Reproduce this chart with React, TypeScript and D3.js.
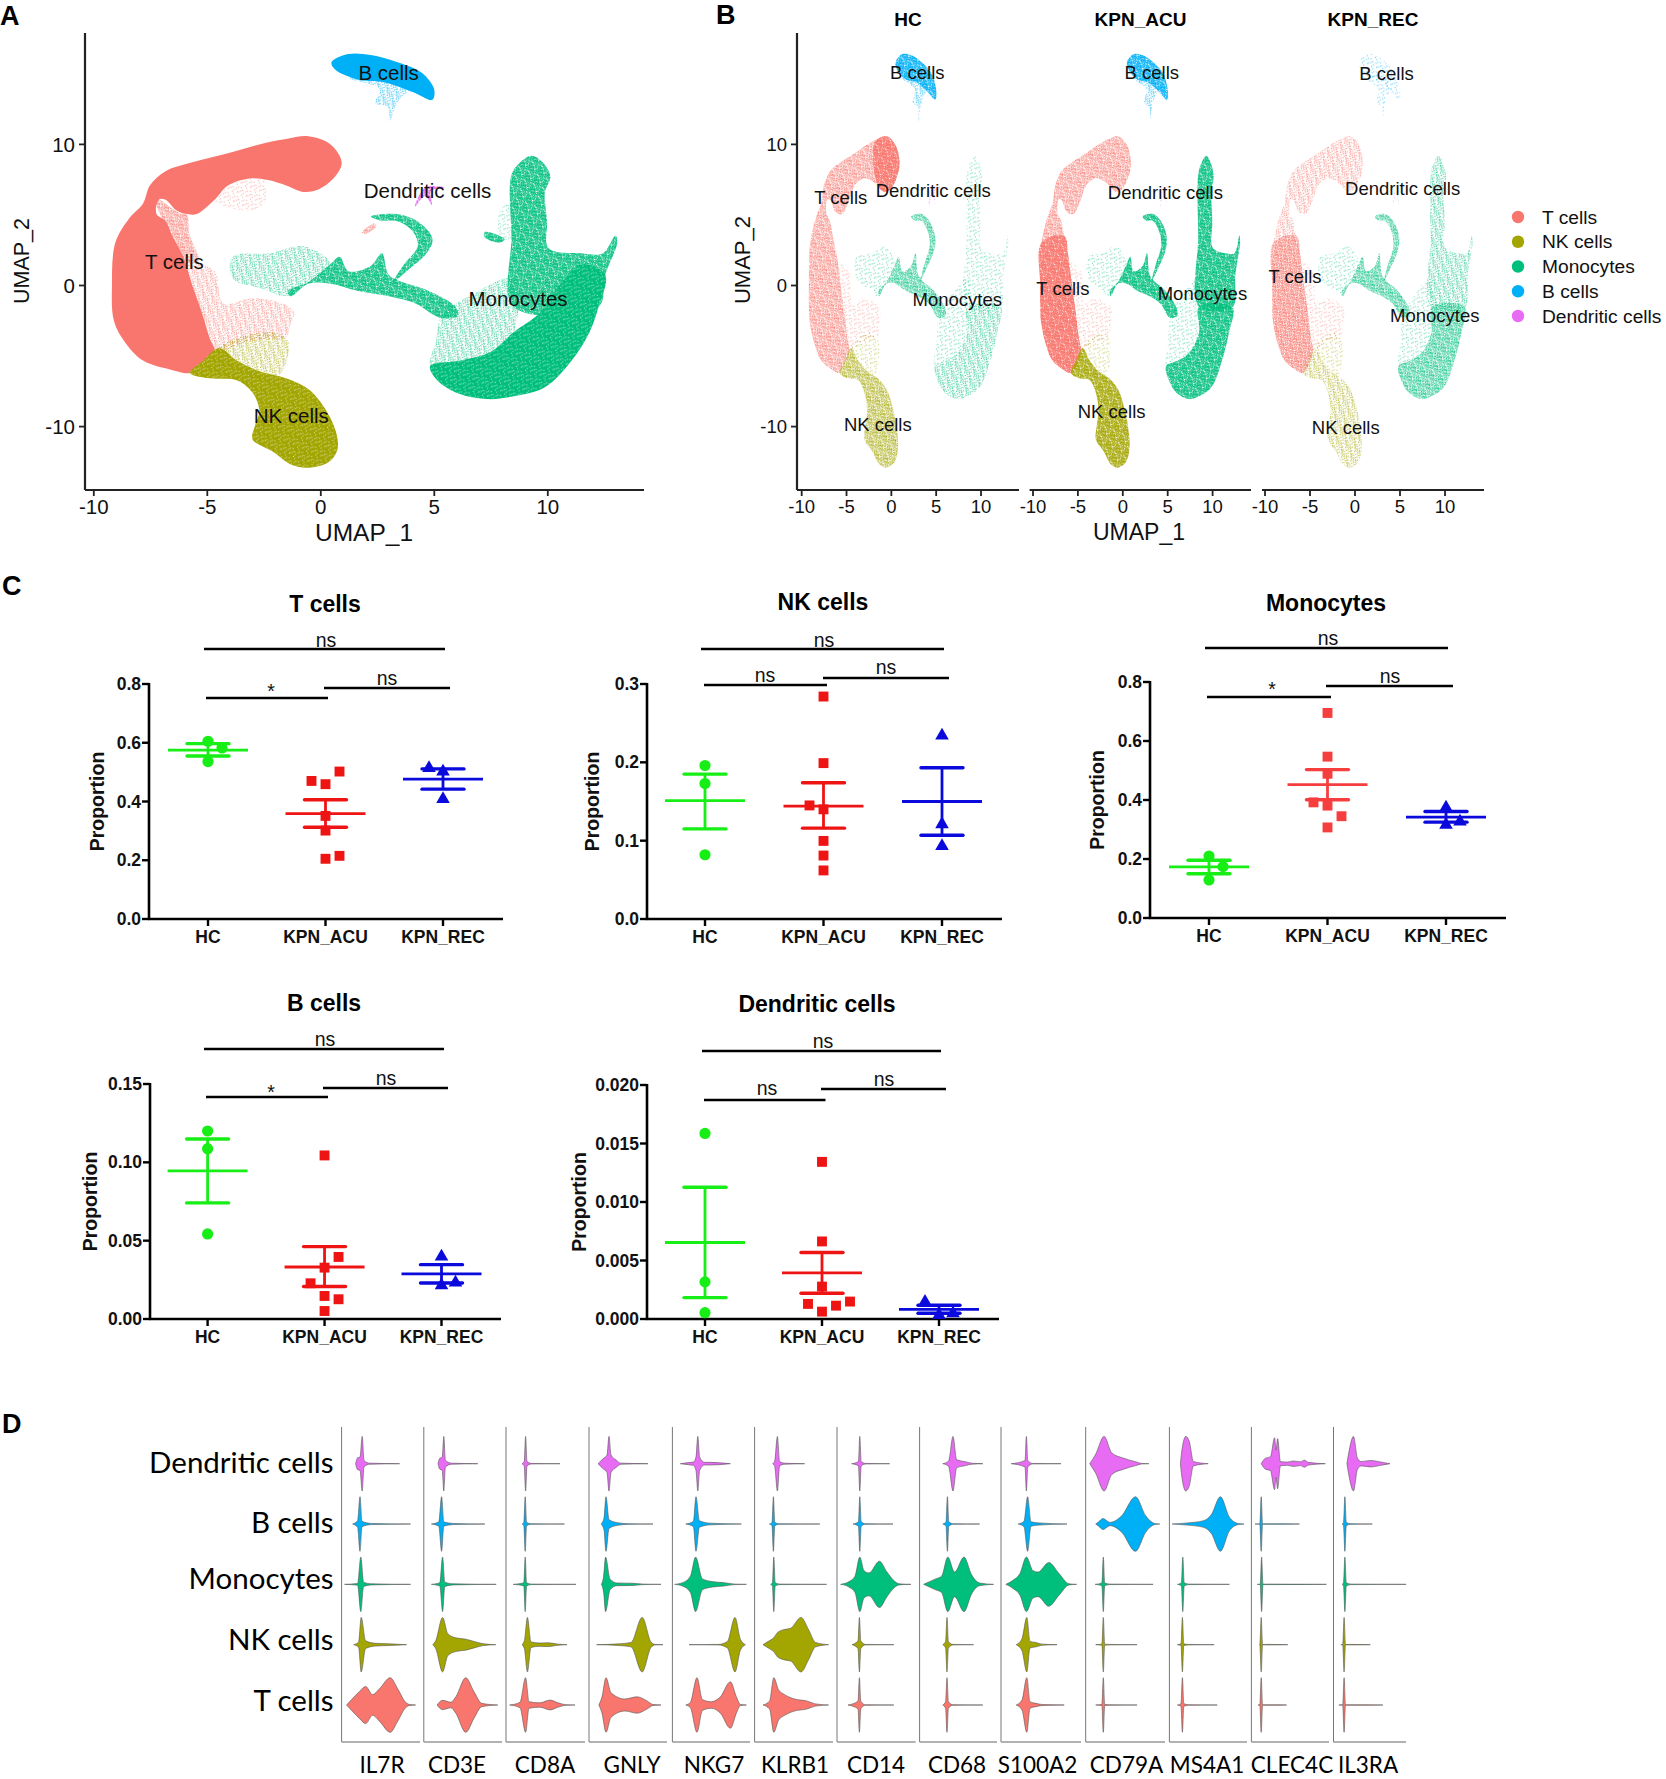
import React from "react";
import * as D3 from "d3";

type Pt = [number, number];

// ---------- shared ----------
const cellTypes = ["T cells", "NK cells", "Monocytes", "B cells", "Dendritic cells"];
const cellColors = ["#F8766D", "#A3A500", "#00BF7D", "#00B0F6", "#E76BF3"];
const patternColors = [...cellColors, "#FFFFFF"];
const T = 0, NK = 1, MO = 2, BC = 3, DC = 4, WHITE = 5;

// ---------- UMAP outlines, in UMAP coordinates ----------
const tMain: Pt[] = [[-0.55,10.58],[0.43,10],[0.92,8.73],[0.63,7.72],[-0.06,6.84],[-0.75,6.63],[-1.53,7.09],[-2.32,7.47],[-3.11,7.59],[-4.09,7.09],[-4.68,6.08],[-5.47,5.06],[-5.86,5.06],[-6.35,5.32],[-6.84,6.08],[-7.14,6.08],[-7.24,5.06],[-6.84,4.56],[-6.55,3.54],[-6.06,2.03],[-5.66,0],[-5.27,-1.77],[-4.88,-3.8],[-4.68,-4.68],[-5.47,-5.82],[-5.76,-6.2],[-6.65,-5.95],[-7.83,-5.32],[-8.61,-4.05],[-9.11,-2.53],[-9.2,0],[-9.05,3.04],[-8.42,4.81],[-7.83,5.82],[-7.53,7.09],[-6.84,8.1],[-5.66,8.73],[-4.09,9.37],[-2.71,10],[-1.53,10.38]];
const tTip: Pt[] = [[-0.55,10.58],[0.43,10],[0.92,8.73],[0.63,7.72],[-0.06,6.84],[-0.75,6.63],[-1.53,7.09],[-1.8,10.2]];
const tCore: Pt[] = [[-9.05,3.04],[-6.55,3.54],[-6.06,2.03],[-5.66,0],[-5.27,-1.77],[-4.88,-3.8],[-4.68,-4.68],[-5.76,-6.2],[-6.65,-5.95],[-7.83,-5.32],[-8.61,-4.05],[-9.11,-2.53],[-9.2,0]];
const tArchInner: Pt[] = [[-4.09,7.09],[-2.52,7.47],[-2.52,5.7],[-3.5,5.32],[-4.68,6.08]];
const tLeftSparse: Pt[] = [[-7.3,6.2],[-6.3,5.2],[-5.9,5],[-5.8,3.7],[-5.4,1.7],[-6.1,1.8],[-6.6,3.5]];
const tSparse: Pt[] = [[-5.96,1.65],[-4.68,1.01],[-4.29,-1.27],[-3.01,-0.89],[-1.53,-1.39],[-1.18,-1.9],[-1.34,-2.78],[-1.53,-3.67],[-2.32,-3.8],[-3.4,-4.05],[-4.68,-4.68],[-4.88,-3.8],[-5.27,-1.77],[-5.66,0]];
const tHookBit: Pt[] = [[1.8,3.75],[2.35,4.4],[2.45,4.2],[1.95,3.65]];
const nkMain: Pt[] = [[-4.48,-4.43],[-3.7,-5.32],[-2.71,-6.08],[-1.53,-6.58],[-0.55,-7.34],[0.14,-8.61],[0.67,-10.38],[0.73,-11.65],[0.33,-12.53],[-0.55,-12.91],[-1.34,-12.66],[-2.12,-11.77],[-3.01,-10.89],[-2.91,-10],[-2.71,-8.86],[-3.01,-7.59],[-3.7,-6.71],[-4.88,-6.58],[-5.76,-6.2],[-5.17,-5.32]];
const nkSparse: Pt[] = [[-4.48,-4.43],[-2.32,-3.29],[-1.44,-3.92],[-1.83,-6.33],[-2.71,-6.08],[-3.7,-5.32]];
const moStem: Pt[] = [[9.28,9.19],[9.77,8.73],[10.11,7.72],[9.87,6.58],[9.97,4.56],[10.03,2.66],[11.45,2.28],[12.43,2.28],[12.98,3.54],[13.06,3.04],[12.53,0.76],[12.23,-1.52],[8.5,-1.52],[8.4,3.54],[8.4,7.85],[8.79,8.73]];
const moCrescent: Pt[] = [[8.5,-3.3],[9.6,-2],[10.5,0],[11.5,1.5],[12.53,0.76],[12.23,-1.52],[11.84,-3.29],[11.05,-5.32],[9.87,-7.22],[8.5,-7.85],[7.32,-8.05],[5.94,-7.59],[5.05,-6.58],[4.82,-5.7],[6.14,-5.32],[7.51,-4.68]];
const moLower: Pt[] = [[8.5,-1.52],[12.23,-1.52],[11.84,-3.29],[11.05,-5.32],[9.87,-7.22],[8.5,-7.85],[7.32,-8.05],[5.94,-7.59],[5.05,-6.58],[4.82,-5.7],[6.14,-5.32],[7.51,-4.68],[8.5,-3.29]];
const moInner: Pt[] = [[5.35,-2.03],[6.53,-0.76],[8.5,0.5],[8.5,-3.29],[7.51,-4.68],[6.14,-5.32],[4.82,-5.7],[5.05,-4.05]];
const moStream: Pt[] = [[-1.44,-0.38],[-0.55,0.25],[0.43,1.52],[0.83,2.03],[1.22,1.01],[2.2,1.39],[2.69,2.28],[2.99,0.76],[3.58,0.25],[4.56,-0.25],[5.94,-1.52],[6.04,-2.15],[5.25,-2.28],[4.17,-1.27],[2.99,-0.76],[1.61,-0.38],[0.43,0.13],[-0.55,0.13],[-1.34,-0.76]];
const moHook: Pt[] = [[2.2,4.89],[3.38,5.06],[4.37,4.43],[4.92,3.29],[4.66,2.28],[3.97,1.27],[3.19,0.25],[3.68,1.52],[4.27,2.78],[4.07,3.8],[3.38,4.56],[2.6,4.61]];
const moWing: Pt[] = [[-3.89,2.03],[-2.32,2.28],[-0.75,2.78],[0.43,1.52],[-0.55,0.25],[-1.53,-0.76],[-2.52,-0.25],[-3.89,0.51]];
const moPatch: Pt[] = [[7.22,3.8],[8.1,3.29],[7.91,3.04],[7.22,3.42]];
const moStemLeft: Pt[] = [[7.9,5.3],[8.5,6],[8.5,3.2],[7.9,3.5]];
const bBand: Pt[] = [[1.22,16.4],[2.2,16.33],[3.38,15.82],[4.46,15.06],[4.99,13.92],[4.92,13.16],[4.07,13.7],[2.79,14.4],[1.61,14.6],[0.63,15.3],[0.47,15.82]];
const bTail: Pt[] = [[1.22,14.68],[2.79,14.81],[4.07,14.05],[3.58,13.42],[3.28,12.66],[3.05,11.65],[2.95,12.66],[2.4,12.91],[2.6,13.92]];
const dcMark: Pt[] = [[4.15,5.6],[4.6,6.95],[5.45,6.95],[4.85,6.7],[4.9,5.7],[4.6,6.35]];

// polygon, colour, density level (1 sparse .. 5 solid)
type Layer = [Pt[], number, number];
const layersA: Layer[] = [
  [moWing, MO, 2], [tSparse, T, 2], [tArchInner, T, 1], [nkSparse, NK, 2], [tLeftSparse, T, 3],
  [tMain, T, 5], [nkMain, NK, 5], [nkMain, WHITE, 1], [moInner, MO, 2], [moStemLeft, MO, 1], [moStem, MO, 4], [moCrescent, MO, 5], [moCrescent, WHITE, 1],
  [moStream, MO, 4], [moHook, MO, 4], [moPatch, MO, 4], [tHookBit, T, 3], [bTail, BC, 2], [bBand, BC, 5], [dcMark, DC, 4],
];
const layersHC: Layer[] = [
  [moWing, MO, 1], [tSparse, T, 1], [nkSparse, NK, 1], [tMain, T, 3], [tTip, T, 4], [nkMain, NK, 3],
  [moInner, MO, 1], [moStem, MO, 1], [moLower, MO, 2], [moStream, MO, 3], [moHook, MO, 3], [bTail, BC, 2], [bBand, BC, 4], [dcMark, DC, 2],
];
const layersACU: Layer[] = [
  [moWing, MO, 1], [tSparse, T, 1], [nkSparse, NK, 1], [tMain, T, 3], [tCore, T, 4], [nkMain, NK, 4],
  [moInner, MO, 1], [moStem, MO, 4], [moLower, MO, 4], [moStream, MO, 4], [moHook, MO, 4], [bTail, BC, 2], [bBand, BC, 4], [dcMark, DC, 1],
];
const layersREC: Layer[] = [
  [moWing, MO, 1], [tSparse, T, 1], [nkSparse, NK, 1], [tMain, T, 2], [tCore, T, 3], [nkMain, NK, 2],
  [moInner, MO, 1], [moStem, MO, 2], [moLower, MO, 3], [moStream, MO, 3], [moHook, MO, 3], [bTail, BC, 1], [bBand, BC, 1], [dcMark, DC, 1],
];

// labels in UMAP coordinates, order as cellTypes
const labelsA: Pt[] = [[-6.45,1.65],[-1.3,-9.24],[8.69,-0.96],[2.99,15.06],[4.7,6.7]];
const labelsHC: Pt[] = [[-5.64,6.23],[-1.51,-9.87],[7.35,-1.01],[2.89,15.06],[4.67,6.76]];
const labelsACU: Pt[] = [[-6.67,-0.2],[-1.24,-8.91],[8.87,-0.56],[3.23,15.06],[4.74,6.61]];
const labelsREC: Pt[] = [[-6.67,0.66],[-1.03,-10.1],[8.87,-2.13],[3.5,15.0],[5.29,6.84]];

const umapXTicks = [-10, -5, 0, 5, 10];
const umapYTicks = [-10, 0, 10];

// ---------- panel C data ----------
const groups = ["HC", "KPN_ACU", "KPN_REC"];

const tValues = [[0.605,0.582,0.536],[0.502,0.47,0.459,0.351,0.301,0.215,0.205],[0.514,0.502,0.408]];
const tSlots = [[0,1,0],[1,-1,0,0,0,1,0],[-1,0,0]];
const tMeans = [0.575,0.359,0.476];
const tLow = [0.555,0.3125,0.442];
const tHigh = [0.597,0.406,0.511];

const nkValues = [[0.196,0.173,0.082],[0.284,0.199,0.145,0.14,0.0997,0.081,0.062],[0.234,0.121,0.093]];
const nkSlots = [[0,0,0],[0,0,-1,0,0,0,0],[0,0,0]];
const nkMeans = [0.151,0.144,0.15];
const nkLow = [0.115,0.116,0.107];
const nkHigh = [0.185,0.174,0.193];

const moValues = [[0.21,0.174,0.129],[0.695,0.547,0.489,0.392,0.381,0.345,0.307],[0.374,0.327,0.316]];
const moSlots = [[0,1,0],[0,0,0,-1,0,1,0],[0,1,0]];
const moMeans = [0.173,0.452,0.342];
const moLow = [0.15,0.401,0.325];
const moHigh = [0.196,0.503,0.361];

const bValues = [[0.12,0.1087,0.0543],[0.1044,0.0396,0.0328,0.0228,0.0147,0.0126,0.0051],[0.0398,0.0232,0.0215]];
const bSlots = [[0,0,0],[0,1,0,-1,0,1,0],[0,1,0]];
const bMeans = [0.0946,0.0332,0.0288];
const bLow = [0.0741,0.0207,0.023];
const bHigh = [0.1149,0.0462,0.0347];

const dcValues = [[0.01586,0.00317,0.00054],[0.01343,0.00663,0.00277,0.00129,0.00149,0.00114,0.00063],[0.00146,0.00049,0.00034]];
const dcSlots = [[0,0,0],[0,0,0,-1,2,1,0],[-1,1,0]];
const dcMeans = [0.00654,0.00394,0.00083];
const dcLow = [0.00183,0.0022,0.00049];
const dcHigh = [0.01126,0.00569,0.00117];

const tTicks = [0,0.2,0.4,0.6,0.8];
const nkTicks = [0,0.1,0.2,0.3];
const moTicks = [0,0.2,0.4,0.6,0.8];
const bTicks = [0,0.05,0.1,0.15];
const dcTicks = [0,0.005,0.01,0.015,0.02];

// ---------- panel D data: [expression, relative density] ----------
const thin = (left: number, peak: number, tail: number, base = 0.05): Pt[] => [[left,0],[peak-0.07,base],[peak,1],[peak+0.07,base],[peak+0.3,0.01],[tail,0]];

const genes = ["IL7R","CD3E","CD8A","GNLY","NKG7","KLRB1","CD14","CD68","S100A2","CD79A","MS4A1","CLEC4C","IL3RA"];
const violinRows = ["Dendritic cells","B cells","Monocytes","NK cells","T cells"];
const il7r: Pt[][] = [
  [[.7,0],[.8,.22],[.92,.24],[1.03,1],[1.12,.12],[1.4,.02],[2.9,0]],
  [[.55,0],[.8,.12],[.92,1],[1.02,.1],[1.5,.02],[3.45,0]],
  [[.15,0],[.8,.03],[.96,1],[1.1,.08],[1.5,.02],[3.45,0]],
  [[.6,0],[.85,.1],[.98,1],[1.2,.14],[1.7,.05],[2.4,.03],[3.25,0]],
  [[.25,0],[.5,.2],[.9,.5],[1.2,.68],[1.55,.38],[1.9,.6],[2.43,1],[2.8,.6],[3.2,.1],[3.4,.02],[3.7,0]],
];
const cd3e: Pt[][] = [
  [[.71,0],[.8,.2],[.92,.24],[1,1],[1.08,.12],[1.4,.02],[2.7,0]],
  [[.38,0],[.75,.08],[.89,1],[1,.08],[1.5,.02],[3.05,0]],
  [[.38,0],[.8,.06],[.94,1],[1.05,.08],[1.5,.02],[3.62,0]],
  [[.45,0],[.6,.15],[.94,1],[1.2,.4],[1.6,.25],[2.1,.2],[2.6,.1],[3,.03],[3.6,0]],
  [[.67,0],[.8,.12],[.95,.17],[1.35,.1],[1.6,.3],[2.1,1],[2.5,.5],[2.9,.06],[3.7,0]],
];
const cd8a: Pt[][] = [
  thin(.8,.98,2.7,.08),
  thin(.8,.96,2.92,.06),
  thin(.36,.96,3.5,.06),
  [[.8,0],[.92,.15],[1.07,1],[1.25,.1],[1.7,.06],[2.1,.07],[2.6,.02],[3.05,0]],
  [[.18,0],[.7,.1],[.98,1],[1.15,.12],[1.7,.08],[2.2,.18],[2.6,.08],[3,.01],[3.45,0]],
];
const gnly: Pt[][] = [
  [[.45,0],[.7,.18],[.9,.32],[1,1],[1.1,.32],[1.35,.14],[1.6,.02],[2.95,0]],
  [[.6,0],[.75,.22],[.85,1],[1,.16],[1.5,.04],[2,.01],[3.2,0]],
  [[.62,0],[.73,.3],[.83,1],[1.05,.2],[1.4,.05],[2.2,.04],[2.7,.01],[3.6,0]],
  [[.38,0],[1.5,.03],[2.1,.08],[2.66,1],[3.1,.1],[3.3,.01],[3.7,0]],
  [[.49,0],[.65,.3],[.85,1],[1.1,.45],[1.8,.22],[2.4,.3],[2.9,.15],[3.2,.02],[3.6,0]],
];
const nkg7: Pt[][] = [
  [[.4,0],[.8,.04],[1.05,.06],[1.18,.25],[1.27,1],[1.36,.25],[1.6,.05],[1.85,.05],[2.9,0]],
  [[.67,0],[1.05,.1],[1.18,1],[1.35,.12],[1.9,.03],[3.45,0]],
  [[.11,0],[.5,.06],[.9,.3],[1.16,1],[1.5,.2],[2,.1],[2.6,.06],[3.1,.01],[3.7,0]],
  [[.83,0],[2.3,.01],[2.75,.12],[3.13,1],[3.4,.2],[3.65,0]],
  [[.67,0],[.9,.1],[1.23,1],[1.5,.2],[1.95,.12],[2.4,.3],[2.9,.85],[3.2,.3],[3.4,.02],[3.7,0]],
];
const klrb1: Pt[][] = [
  [[.9,0],[1,.08],[1.14,1],[1.25,.08],[1.5,.02],[2.5,0]],
  thin(.74,.94,3.26,.06),
  thin(.8,.96,3.6,.06),
  [[.42,0],[.75,.15],[.95,.25],[1.15,.45],[1.45,.55],[1.8,.6],[2.32,1],[2.7,.55],[3.05,.08],[3.7,0]],
  [[.42,0],[.75,.15],[.96,1],[1.2,.55],[1.5,.38],[2,.22],[2.6,.15],[3.05,.04],[3.7,0]],
];
const cd14: Pt[][] = [
  thin(.73,1.14,2.63,.08),
  thin(.8,1.14,2.8,.08),
  [[.18,0],[.6,.1],[.9,.3],[1.14,1],[1.35,.5],[1.6,.42],[2.12,.85],[2.5,.45],[2.9,.1],[3.1,.02],[3.7,0]],
  thin(.75,1.12,2.84,.14),
  thin(.55,1.12,2.84,.14),
];
const cd68: Pt[][] = [
  [[1.16,0],[1.45,.1],[1.67,1],[1.85,.15],[2.3,.07],[2.6,.02],[3.16,0]],
  thin(1.16,1.39,3,.08),
  [[.2,0],[.8,.2],[1.1,.3],[1.41,1],[1.75,.45],[2.22,1],[2.6,.35],[3,.05],[3.7,0]],
  thin(1.16,1.37,2.7,.12),
  thin(1.16,1.37,3.16,.12),
];
const s100a2: Pt[][] = [
  thin(.51,1.27,3,.12),
  [[.86,0],[1.15,.1],[1.33,1],[1.5,.08],[1.9,.04],[3.3,0]],
  [[.24,0],[.6,.15],[.95,.4],[1.27,1],[1.6,.5],[1.85,.45],[2.39,.8],[2.9,.4],[3.4,.02],[3.78,0]],
  [[.76,0],[1.05,.22],[1.29,1],[1.45,.12],[1.75,.08],[2.05,.02],[2.8,0]],
  [[.76,0],[1.05,.18],[1.29,1],[1.45,.12],[1.75,.06],[2.05,.02],[3.16,0]],
];
const cd79a: Pt[][] = [
  [[.2,0],[.5,.35],[.92,1],[1.3,.4],[1.9,.2],[2.5,.07],[2.8,.01],[3.16,0]],
  [[.5,0],[.65,.08],[.86,.2],[1.22,.06],[1.8,.3],[2.49,1],[3,.3],[3.45,.02],[3.7,0]],
  thin(.47,.88,3.37,.05),
  thin(.5,.88,2.57,.02),
  thin(.5,.88,2.57,.02),
];
const ms4a1: Pt[][] = [
  [[.55,0],[.6,.35],[.82,1],[1,.8],[1.2,.08],[1.94,0]],
  [[.14,0],[.9,.04],[1.7,.12],[2.1,.35],[2.55,1],[3,.25],[3.45,.02],[3.73,0]],
  thin(.4,.67,3,.06),
  thin(.4,.65,2.24,.03),
  thin(.4,.65,2.39,.05),
];
const clec4c: Pt[][] = [
  [[.49,0],[.7,.2],[.95,.25],[1.16,.95],[1.23,.5],[1.31,.92],[1.45,.08],[1.8,.06],[2.1,.1],[2.45,.07],[2.65,.13],[2.85,.05],[3.7,0]],
  thin(.18,.49,2.4,.005),
  thin(.29,.51,3.75,.005),
  thin(.45,.49,1.82,.005),
  thin(.33,.49,1.76,.005),
];
const il3ra: Pt[][] = [
  [[.67,0],[.75,.35],[1,1],[1.2,.2],[1.4,.08],[1.86,.12],[2.3,.07],[2.82,0]],
  thin(.43,.57,1.94,.06),
  thin(.43,.57,3.63,.06),
  thin(.37,.53,1.84,.005),
  thin(.27,.53,2.47,.005),
];
const violinData = [il7r,cd3e,cd8a,gnly,nkg7,klrb1,cd14,cd68,s100a2,cd79a,ms4a1,clec4c,il3ra];
const violinColorIndex = [DC, BC, MO, NK, T];

// ---------- layout ----------
const W = 1666, H = 1779;
const SANS = "'Liberation Sans', Arial, sans-serif";
const CAL = "Lato, sans-serif";
const dots: Pt[] = [[1.2,.7],[6.3,1.8],[3.4,4.1],[8.6,5.2],[.4,6.9],[5.2,8.3],[2.7,9.1],[7.9,.3],[4.8,2.9],[9.3,3.1],[1.9,3],[6.8,6.7],[3.6,6.2],[8.2,8.6],[.8,9.4],[5.6,4.9],[2.6,1.9],[7.4,3.9],[4.1,.2],[9.7,7.3],[1.3,5],[6.1,9.5],[3.1,7.8],[8.8,1.2],[.2,2.3],[5,6.5],[2.2,6],[7.3,7.9],[4.3,9.2],[9.2,9.6],[.9,8],[5.9,.9],[3.8,3],[8,2.4],[1.7,4],[6.5,5.5],[4.5,5.6],[9.6,4.6],[2.4,7.6],[7,9]];
const levelDots: [number, number][] = [[0,0],[10,.5],[20,.6],[40,.65],[40,.9]];

const fillFor = (c: number, l: number) => (l >= 5 ? cellColors[c] : `url(#p-${c}-${l})`);

function UmapPanel(p: { x0: number; xm10: number; x10: number; axisEnd: number; layers: Layer[]; labels: Pt[]; fs: number; axisY?: boolean; tickFs: number }) {
  const x = D3.scaleLinear().domain([-10, 10]).range([p.xm10, p.x10]);
  const y = D3.scaleLinear().domain([-10, 10]).range([426.6, 144.4]);
  const path = D3.line<Pt>().x((d) => x(d[0])).y((d) => y(d[1])).curve(D3.curveCatmullRomClosed.alpha(0.5));
  return (
    <g>
      {p.layers.map(([poly, c, l], i) => (
        <path key={i} d={path(poly) ?? ""} fill={fillFor(c, l)} />
      ))}
      {p.labels.map((d, i) => (
        <text key={i} x={x(d[0])} y={y(d[1])} dy="0.35em" textAnchor="middle" fontFamily={SANS} fontSize={p.fs} fill="#111">{cellTypes[i]}</text>
      ))}
      <line x1={p.x0} x2={p.axisEnd} y1={490} y2={490} stroke="#222" strokeWidth={2.2} />
      {umapXTicks.map((t) => (
        <g key={t}>
          <line x1={x(t)} x2={x(t)} y1={490} y2={496} stroke="#222" strokeWidth={1.8} />
          <text x={x(t)} y={507} dy="0.35em" textAnchor="middle" fontFamily={SANS} fontSize={p.tickFs} fill="#111">{t}</text>
        </g>
      ))}
      {p.axisY && <line x1={p.x0} x2={p.x0} y1={33} y2={490} stroke="#222" strokeWidth={2.2} />}
      {p.axisY && umapYTicks.map((t) => (
        <g key={t}>
          <line x1={p.x0 - 6} x2={p.x0} y1={y(t)} y2={y(t)} stroke="#222" strokeWidth={1.8} />
          <text x={p.x0 - 10} y={y(t)} dy="0.35em" textAnchor="end" fontFamily={SANS} fontSize={p.tickFs} fill="#111">{t}</text>
        </g>
      ))}
    </g>
  );
}

type Bracket = [number, number, number, string, number, number];
type Dot = {
  title: string; titleX: number; titleY: number; axisX: number; axisEnd: number; y0: number; yTop: number; propX: number;
  catX: [number, number]; max: number; ticks: number[]; fmt: string; red: string;
  values: number[][]; slots: number[][]; means: number[]; low: number[]; high: number[]; brackets: Bracket[];
};

const dotPanels: Dot[] = [
  { title: "T cells", titleX: 325, titleY: 604, axisX: 149, axisEnd: 503, y0: 919, yTop: 684, propX: 97, catX: [208, 443], max: 0.8, ticks: tTicks, fmt: ".1f", red: "#EE1414",
    values: tValues, slots: tSlots, means: tMeans, low: tLow, high: tHigh,
    brackets: [[204,445,649,"ns",326,640],[206,328,698,"*",271,691],[324,450,688,"ns",387,678]] },
  { title: "NK cells", titleX: 823, titleY: 602, axisX: 647, axisEnd: 1002, y0: 919, yTop: 684, propX: 592, catX: [705, 942], max: 0.3, ticks: nkTicks, fmt: ".1f", red: "#EE1414",
    values: nkValues, slots: nkSlots, means: nkMeans, low: nkLow, high: nkHigh,
    brackets: [[701,944,649,"ns",824,640],[704,827,685,"ns",765,675],[823,949,678,"ns",886,667]] },
  { title: "Monocytes", titleX: 1326, titleY: 603, axisX: 1150, axisEnd: 1506, y0: 918, yTop: 682, propX: 1097, catX: [1209, 1446], max: 0.8, ticks: moTicks, fmt: ".1f", red: "#F63E3E",
    values: moValues, slots: moSlots, means: moMeans, low: moLow, high: moHigh,
    brackets: [[1205,1448,648,"ns",1328,638],[1207,1331,697,"*",1272,689],[1326,1453,686,"ns",1390,676]] },
  { title: "B cells", titleX: 324, titleY: 1003, axisX: 150, axisEnd: 501, y0: 1319, yTop: 1084, propX: 90, catX: [207.6, 441.5], max: 0.15, ticks: bTicks, fmt: ".2f", red: "#EE1414",
    values: bValues, slots: bSlots, means: bMeans, low: bLow, high: bHigh,
    brackets: [[204,444,1049,"ns",325,1039],[206,328,1097,"*",271,1092],[323,448,1088,"ns",386,1078]] },
  { title: "Dendritic cells", titleX: 817, titleY: 1004, axisX: 647, axisEnd: 999, y0: 1319, yTop: 1085, propX: 579, catX: [705, 939], max: 0.02, ticks: dcTicks, fmt: ".3f", red: "#EE1414",
    values: dcValues, slots: dcSlots, means: dcMeans, low: dcLow, high: dcHigh,
    brackets: [[702,941,1051,"ns",823,1041],[704,825.5,1100,"ns",767,1088],[821,946,1089,"ns",884,1079]] },
];

const groupSymbols = [D3.symbolCircle, D3.symbolSquare, D3.symbolTriangle];
const groupSizes = [98, 98, 80];

function DotPanel({ p }: { p: Dot }) {
  const x = D3.scalePoint<string>().domain(groups).range(p.catX);
  const y = D3.scaleLinear().domain([0, p.max]).range([p.y0, p.yTop]);
  const fmt = D3.format(p.fmt);
  const colors = ["#16EE16", p.red, "#0A0ADC"];
  return (
    <g fontFamily={SANS}>
      <text x={p.titleX} y={p.titleY} dy="0.35em" textAnchor="middle" fontWeight="bold" fontSize={23} fill="#000">{p.title}</text>
      {p.brackets.map((b, i) => (
        <g key={i}>
          <line x1={b[0]} x2={b[1]} y1={b[2]} y2={b[2]} stroke="#000" strokeWidth={2.6} />
          <text x={b[4]} y={b[5]} dy="0.35em" textAnchor="middle" fontSize={19.5} fill="#111">{b[3]}</text>
        </g>
      ))}
      <line x1={p.axisX} x2={p.axisX} y1={p.yTop - 1} y2={p.y0 + 1} stroke="#000" strokeWidth={2.6} />
      <line x1={p.axisX - 1} x2={p.axisEnd} y1={p.y0} y2={p.y0} stroke="#000" strokeWidth={2.6} />
      {p.ticks.map((t) => (
        <g key={t}>
          <line x1={p.axisX - 7} x2={p.axisX} y1={y(t)} y2={y(t)} stroke="#000" strokeWidth={2.4} />
          <text x={p.axisX - 8} y={y(t)} dy="0.35em" textAnchor="end" fontWeight="bold" fontSize={17.5} fill="#111">{fmt(t)}</text>
        </g>
      ))}
      <text transform={`translate(${p.propX},${(p.y0 + p.yTop) / 2}) rotate(-90)`} dy="0.35em" textAnchor="middle" fontWeight="bold" fontSize={19.5} fill="#111">Proportion</text>
      {groups.map((g, i) => {
        const cx = x(g) ?? 0;
        const sym = D3.symbol().type(groupSymbols[i]).size(groupSizes[i]);
        return (
          <g key={g}>
            <line x1={cx} x2={cx} y1={p.y0} y2={p.y0 + 7} stroke="#000" strokeWidth={2.4} />
            <text x={cx} y={p.y0 + 18} dy="0.35em" textAnchor="middle" fontWeight="bold" fontSize={17.5} fill="#111">{g}</text>
            {p.values[i].map((v, k) => (
              <path key={k} d={sym() ?? ""} transform={`translate(${cx + p.slots[i][k] * 14},${y(v)})`} fill={colors[i]} />
            ))}
            <line x1={cx - 40} x2={cx + 40} y1={y(p.means[i])} y2={y(p.means[i])} stroke={colors[i]} strokeWidth={2.8} />
            <line x1={cx} x2={cx} y1={y(p.low[i])} y2={y(p.high[i])} stroke={colors[i]} strokeWidth={2.8} />
            {[p.low[i], p.high[i]].map((e, k) => (
              <line key={k} x1={cx - 21} x2={cx + 21} y1={y(e)} y2={y(e)} stroke={colors[i]} strokeWidth={3.4} strokeLinecap="round" />
            ))}
          </g>
        );
      })}
    </g>
  );
}

const geneAxisX = [341.6,423.8,506,589,672.4,754.6,837,919.6,1001,1085.7,1169.4,1251.4,1333.5];
const geneEndX = [420,502,585,667,750,833,915.6,997,1081,1165,1247,1329,1406];
const geneLabelX = [382,457,545,632,714,795,876,957,1037.5,1126.5,1207,1292,1368];
const rowLabelY = [1463,1523,1579,1640,1701];

function ViolinPanel() {
  const rowY = D3.scalePoint<string>().domain(violinRows).range([1463.7, 1705]);
  const h = D3.scaleLinear().domain([0, 1]).range([0, 27.3]);
  return (
    <g>
      {violinRows.map((r, i) => (
        <text key={r} x={333.6} y={rowLabelY[i]} dy="0.35em" textAnchor="end" fontFamily={CAL} fontSize={29.5} fill="#000">{r}</text>
      ))}
      {genes.map((g, gi) => {
        const x = D3.scaleLinear().domain([0, 4]).range([geneAxisX[gi], geneAxisX[gi] + 80]);
        return (
          <g key={g}>
            <line x1={geneAxisX[gi]} x2={geneAxisX[gi]} y1={1427} y2={1742} stroke="#777" strokeWidth={1} />
            <line x1={geneAxisX[gi]} x2={geneEndX[gi]} y1={1742} y2={1742} stroke="#999" strokeWidth={1.4} />
            {violinRows.map((r, ri) => {
              const cy = rowY(r) ?? 0;
              const area = D3.area<Pt>().x((d) => x(d[0])).y0((d) => cy - h(d[1])).y1((d) => cy + h(d[1])).curve(D3.curveMonotoneX);
              return <path key={r} d={area(violinData[gi][ri]) ?? ""} fill={cellColors[violinColorIndex[ri]]} stroke="#555" strokeWidth={0.6} />;
            })}
            <text x={geneLabelX[gi]} y={1765} dy="0.35em" textAnchor="middle" fontFamily={CAL} fontSize={22.5} fill="#000">{g}</text>
          </g>
        );
      })}
    </g>
  );
}

export default function App() {
  const legendY = D3.scalePoint<string>().domain(cellTypes).range([217, 316]);
  return (
    <svg width={W} height={H} viewBox={`0 0 ${W} ${H}`} style={{ position: "absolute", left: 0, top: 0, background: "#fff" }}>
      <defs>
        {patternColors.map((col, c) =>
          levelDots.slice(1).map(([n, r], li) => (
            <pattern key={`${c}-${li}`} id={`p-${c}-${li + 1}`} width={10} height={10} patternUnits="userSpaceOnUse" patternTransform="rotate(23)">
              {dots.slice(0, n).map((d, k) => (
                <circle key={k} cx={d[0]} cy={d[1]} r={r} fill={col} />
              ))}
            </pattern>
          ))
        )}
      </defs>
      <g fontFamily={SANS} fontWeight="bold" fontSize={27} fill="#000">
        <text x={0} y={25}>A</text>
        <text x={716} y={24}>B</text>
        <text x={2} y={595}>C</text>
        <text x={2} y={1433}>D</text>
      </g>
      <UmapPanel x0={85} xm10={93.8} x10={547.8} axisEnd={644} layers={layersA} labels={labelsA} fs={20.5} axisY tickFs={20.5} />
      <text transform="translate(21,261) rotate(-90)" dy="0.35em" textAnchor="middle" fontFamily={SANS} fontSize={21.5} fill="#111">UMAP_2</text>
      <text x={364} y={532} dy="0.35em" textAnchor="middle" fontFamily={SANS} fontSize={24.5} fill="#111">UMAP_1</text>

      <UmapPanel x0={797} xm10={801.7} x10={981} axisEnd={1019} layers={layersHC} labels={labelsHC} fs={18.5} axisY tickFs={18.5} />
      <UmapPanel x0={1029.6} xm10={1033} x10={1212.6} axisEnd={1251} layers={layersACU} labels={labelsACU} fs={18.5} tickFs={18.5} />
      <UmapPanel x0={1262} xm10={1265} x10={1445} axisEnd={1484} layers={layersREC} labels={labelsREC} fs={18.5} tickFs={18.5} />
      <text transform="translate(742,260) rotate(-90)" dy="0.35em" textAnchor="middle" fontFamily={SANS} fontSize={22} fill="#111">UMAP_2</text>
      <text x={1139} y={532} dy="0.35em" textAnchor="middle" fontFamily={SANS} fontSize={23} fill="#111">UMAP_1</text>
      <g fontFamily={SANS} fontWeight="bold" fontSize={19} fill="#000" textAnchor="middle">
        <text x={908} y={19} dy="0.35em">HC</text>
        <text x={1140.5} y={19} dy="0.35em">KPN_ACU</text>
        <text x={1373} y={19} dy="0.35em">KPN_REC</text>
      </g>
      {cellTypes.map((c, i) => (
        <g key={c}>
          <circle cx={1518} cy={legendY(c) ?? 0} r={6.2} fill={cellColors[i]} />
          <text x={1542} y={legendY(c) ?? 0} dy="0.35em" fontFamily={SANS} fontSize={19.2} fill="#111">{c}</text>
        </g>
      ))}
      {dotPanels.map((p) => <DotPanel key={p.title} p={p} />)}
      <ViolinPanel />
    </svg>
  );
}
